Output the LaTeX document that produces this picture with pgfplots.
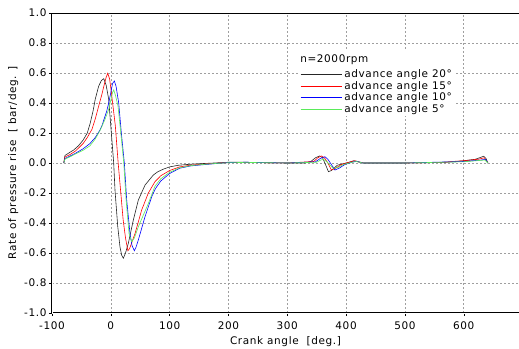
\documentclass[border=0pt]{standalone}
\usepackage{pgfplots}
\pgfplotsset{compat=1.18}
\usepackage{fontspec}
\setmainfont{DejaVu Sans}[LetterSpace=6]
\definecolor{cgreen}{RGB}{90,235,90}
\newcommand{\fs}{\fontsize{10.5}{12}\selectfont}
\begin{document}
\begin{tikzpicture}
\begin{axis}[
  name=ax,
  scale only axis, width=467bp, height=300bp,
  xmin=-100, xmax=694, ymin=-1, ymax=1,
  axis lines*=left,
  axis line style={line width=0.4pt, double distance=0.8pt},
  xtick={-100,0,100,200,300,400,500,600},
  xticklabels={-100,0,100,200,300,400,500,600},
  ytick={-1,-0.8,-0.6,-0.4,-0.2,0,0.2,0.4,0.6,0.8,1},
  yticklabels={-1.0,-0.8,-0.6,-0.4,-0.2,0.0,0.2,0.4,0.6,0.8,1.0},
  tick align=outside, major tick length=3bp,
  tick style={black, line width=0.4pt},
  grid=major, grid style={gray!75, dash pattern=on 2bp off 2bp, line width=0.5pt},
  ticklabel style={font=\fs},
  xticklabel style={yshift=-2bp},
  yticklabel style={xshift=1bp},
  label style={font=\fs},
  xlabel={Crank angle\ \ [deg.]},
  ylabel={Rate of pressure rise\ \ [ bar/deg. ]},
  ylabel style={yshift=-1bp},
  legend style={at={(axis cs:321.8,0.64)}, anchor=north west, draw=none,
    row sep=-1.5bp, column sep=0.5bp, inner sep=0pt, font=\fs},
  legend image post style={xscale=2.41},
  legend cell align=left,
  every axis plot/.append style={line width=0.6pt},
]
\fill[white] (axis cs:318.4,0.753) rectangle (axis cs:587,0.32);
\addplot[black!85] coordinates {
(-80,0) (-78,0.05) (-70,0.07) (-63,0.087) (-55,0.115) (-47,0.153) (-40,0.2) (-35,0.266) (-30,0.35) (-26.5,0.425) (-20.6,0.513) (-16,0.55) (-12,0.562) (-8,0.52) (-3.6,0.425) (0.9,0.2) (4.9,0) (7.1,-0.18) (11.7,-0.42) (15.6,-0.56) (18.5,-0.615) (21.3,-0.635) (25,-0.6) (29.8,-0.535) (38.3,-0.38) (46.8,-0.247) (58.2,-0.147) (72.3,-0.08) (80,-0.058) (90,-0.04) (100,-0.026) (115,-0.015) (130,-0.01) (150,-0.005) (175,0) (200,0.005) (230,0.005) (260,0.002) (300,0) (330,0) (340,0.01) (348,0.035) (355,0.047) (360,0.035) (365,-0.01) (370,-0.058) (375,-0.05) (385,-0.015) (395,-0.005) (405,0.005) (413,0.015) (420,0.008) (430,0) (500,0) (560,0.003) (580,0.008) (600,0.015) (620,0.025) (634,0.045) (638,0.03) (641,0)
};
\addlegendentry{advance angle 20°}
\addplot[red] coordinates {
(-80,0) (-78,0.04) (-70,0.055) (-60,0.08) (-47,0.13) (-40,0.17) (-32,0.225) (-26,0.3) (-20.6,0.38) (-15,0.46) (-12,0.51) (-8,0.57) (-5.3,0.598) (-2,0.56) (0.9,0.47) (4,0.37) (7.7,0.247) (12.5,0) (17,-0.2) (21,-0.38) (25,-0.5) (29,-0.585) (32,-0.57) (41.2,-0.47) (52.5,-0.313) (63.8,-0.2) (75,-0.125) (85,-0.085) (100,-0.05) (117,-0.026) (135,-0.015) (150,-0.01) (175,-0.003) (200,0.003) (230,0.004) (300,0) (345,0.01) (352,0.035) (358,0.047) (363,0.035) (369,0) (375,-0.047) (382,-0.035) (392,-0.01) (405,0.005) (415,0.015) (422,0.007) (430,0) (500,0) (570,0.005) (580,0.01) (600,0.015) (625,0.025) (635,0.035) (641,0)
};
\addlegendentry{advance angle 15°}
\addplot[blue] coordinates {
(-80,0) (-78,0.03) (-70,0.045) (-60,0.065) (-47,0.095) (-35.4,0.13) (-26.4,0.17) (-18.4,0.22) (-15,0.25) (-7,0.345) (-3.6,0.40) (0,0.47) (3,0.53) (6,0.547) (9,0.51) (13.4,0.40) (17.9,0.2) (23,0) (27,-0.247) (32.6,-0.47) (36,-0.55) (40,-0.585) (43,-0.56) (46.8,-0.513) (58.2,-0.357) (69.6,-0.224) (76,-0.17) (85,-0.12) (100,-0.07) (117,-0.035) (135,-0.02) (150,-0.014) (175,-0.005) (200,0.003) (230,0.005) (300,0) (348,0.008) (356,0.03) (364,0.042) (369,0.025) (375,-0.01) (381,-0.047) (388,-0.035) (398,-0.01) (410,0.005) (418,0.012) (428,0) (500,0) (600,0.01) (630,0.02) (637,0.025) (641,0)
};
\addlegendentry{advance angle 10°}
\addplot[cgreen] coordinates {
(-80,0) (-78,0.025) (-70,0.04) (-60,0.06) (-47,0.085) (-35.4,0.115) (-26.4,0.16) (-17.9,0.22) (-10,0.29) (-3.6,0.358) (0,0.42) (3,0.47) (5,0.487) (8,0.45) (12.2,0.38) (17,0.2) (22,0) (26,-0.247) (31,-0.47) (35.5,-0.525) (40,-0.5) (46.8,-0.425) (63.8,-0.27) (75,-0.155) (85,-0.105) (100,-0.062) (117,-0.032) (135,-0.018) (150,-0.012) (175,-0.004) (200,0.002) (230,0.004) (300,0) (350,0.005) (356,0.018) (361,0.025) (367,0.01) (373,-0.015) (378,-0.035) (386,-0.03) (396,-0.01) (410,0.005) (418,0.01) (428,0) (500,0) (600,0.008) (630,0.018) (636,0.02) (641,0)
};
\addlegendentry{advance angle 5°}
\draw[line width=0.5pt] (rel axis cs:0,1) -- (rel axis cs:1,1);
\node[anchor=base west, inner sep=0pt, font=\fs] at (axis cs:321.8,0.667) {n=2000rpm};
\end{axis}
\pgfresetboundingbox
\path[use as bounding box] ([shift={(-52bp,-36bp)}]ax.south west) rectangle ([shift={(0bp,13bp)}]ax.north east);
\end{tikzpicture}
\end{document}
